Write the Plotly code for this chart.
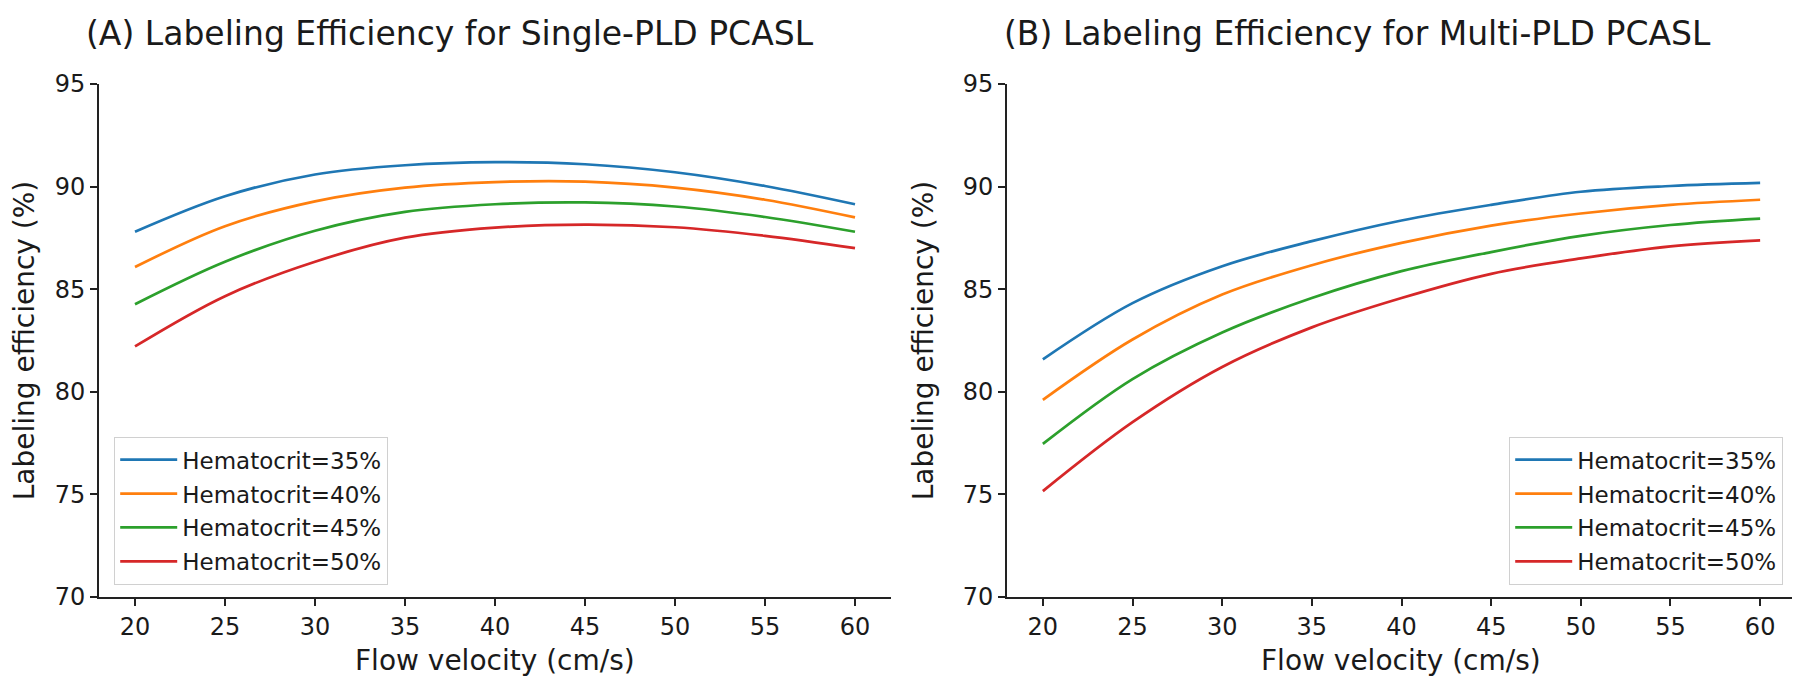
import plotly.graph_objects as go

# ---- data ----
velocity = [20, 25, 30, 35, 40, 45, 50, 55, 60]
series_names = ["Hematocrit=35%", "Hematocrit=40%", "Hematocrit=45%", "Hematocrit=50%"]

single_h35 = [87.80, 89.53, 90.59, 91.04, 91.19, 91.09, 90.70, 90.03, 89.14]
single_h40 = [86.08, 88.07, 89.28, 89.95, 90.22, 90.24, 89.95, 89.36, 88.50]
single_h45 = [84.27, 86.34, 87.85, 88.77, 89.14, 89.23, 89.03, 88.52, 87.80]
single_h50 = [82.21, 84.66, 86.34, 87.51, 88.00, 88.15, 88.02, 87.60, 87.00]

multi_h35 = [81.58, 84.32, 86.12, 87.34, 88.35, 89.11, 89.75, 90.03, 90.18]
multi_h40 = [79.61, 82.55, 84.74, 86.17, 87.26, 88.10, 88.69, 89.11, 89.36]
multi_h45 = [77.46, 80.62, 82.89, 84.57, 85.88, 86.81, 87.60, 88.13, 88.44]
multi_h50 = [75.16, 78.52, 81.21, 83.14, 84.57, 85.75, 86.50, 87.09, 87.38]

x_ticks = [20, 25, 30, 35, 40, 45, 50, 55, 60]
y_ticks = [70, 75, 80, 85, 90, 95]

titles = ["(A) Labeling Efficiency for Single-PLD PCASL",
          "(B) Labeling Efficiency for Multi-PLD PCASL"]
x_title = "Flow velocity (cm/s)"
y_title = "Labeling efficiency (%)"

colors = ["#1f77b4", "#ff7f0e", "#2ca02c", "#d62728"]
FONT = "DejaVu Sans, sans-serif"
TXT = "#1a1a1a"

# ---- layout geometry (px) ----
W, H = 1800, 676
ML, MR, MT, MB = 91, 12, 76, 87
PW = W - ML - MR
PH = H - MT - MB
left_dom = [0, (883 - ML) / PW]
right_dom = [(999 - ML) / PW, 1]


def px_x(px):
    return (px - ML) / PW


def px_y(py):  # py measured from top of the page
    return (H - MB - py) / PH


fig = go.Figure()

single = [single_h35, single_h40, single_h45, single_h50]
multi = [multi_h35, multi_h40, multi_h45, multi_h50]

for i, (name, ys) in enumerate(zip(series_names, single)):
    fig.add_trace(go.Scatter(x=velocity, y=ys, mode="lines", name=name,
                             legendgroup="a" + name,
                             line=dict(color=colors[i], width=2.7, shape="spline", smoothing=1.0),
                             xaxis="x", yaxis="y", legend="legend"))
for i, (name, ys) in enumerate(zip(series_names, multi)):
    fig.add_trace(go.Scatter(x=velocity, y=ys, mode="lines", name=name,
                             legendgroup="b" + name,
                             line=dict(color=colors[i], width=2.7, shape="spline", smoothing=1.0),
                             xaxis="x2", yaxis="y2", legend="legend2"))

axis_common = dict(showgrid=False, zeroline=False, showline=True, linecolor="#222222",
                   linewidth=1.7, ticks="outside", ticklen=7, tickwidth=1.5,
                   tickcolor="#222222", tickfont=dict(family=FONT, size=24, color=TXT),
                   mirror=False, automargin=False)

xcommon = dict(axis_common, range=[18, 62], tickvals=x_ticks)
ycommon = dict(axis_common, range=[70, 95], tickvals=y_ticks,
               title=dict(text=y_title, font=dict(family=FONT, size=28, color=TXT), standoff=21))

legend_common = dict(font=dict(family=FONT, size=23, color=TXT),
                     bgcolor="rgba(255,255,255,0.85)", bordercolor="#d0d0d0", borderwidth=1.2,
                     tracegroupgap=1, itemwidth=57, yanchor="bottom")

fig.update_layout(
    width=W, height=H,
    margin=dict(l=ML, r=MR, t=MT, b=MB, autoexpand=False),
    plot_bgcolor="white", paper_bgcolor="white",
    xaxis=dict(xcommon, domain=left_dom, anchor="y"),
    yaxis=dict(ycommon, domain=[0, 1], anchor="x"),
    xaxis2=dict(xcommon, domain=right_dom, anchor="y2"),
    yaxis2=dict(ycommon, domain=[0, 1], anchor="x2"),
    legend=dict(legend_common, x=px_x(106), xanchor="left", y=px_y(577)),
    legend2=dict(legend_common, x=px_x(1775), xanchor="right", y=px_y(577)),
    showlegend=True,
    annotations=[
        dict(text=titles[0], x=px_x(442), y=px_y(25), xref="paper", yref="paper",
             xanchor="center", yanchor="middle", showarrow=False,
             font=dict(family=FONT, size=33, color=TXT)),
        dict(text=titles[1], x=px_x(1349), y=px_y(25), xref="paper", yref="paper",
             xanchor="center", yanchor="middle", showarrow=False,
             font=dict(family=FONT, size=33, color=TXT)),
        dict(text=x_title, x=px_x(487), y=px_y(652), xref="paper", yref="paper",
             xanchor="center", yanchor="middle", showarrow=False,
             font=dict(family=FONT, size=28, color=TXT)),
        dict(text=x_title, x=px_x(1393), y=px_y(652), xref="paper", yref="paper",
             xanchor="center", yanchor="middle", showarrow=False,
             font=dict(family=FONT, size=28, color=TXT)),
    ],
)

fig.write_html("out.html")
